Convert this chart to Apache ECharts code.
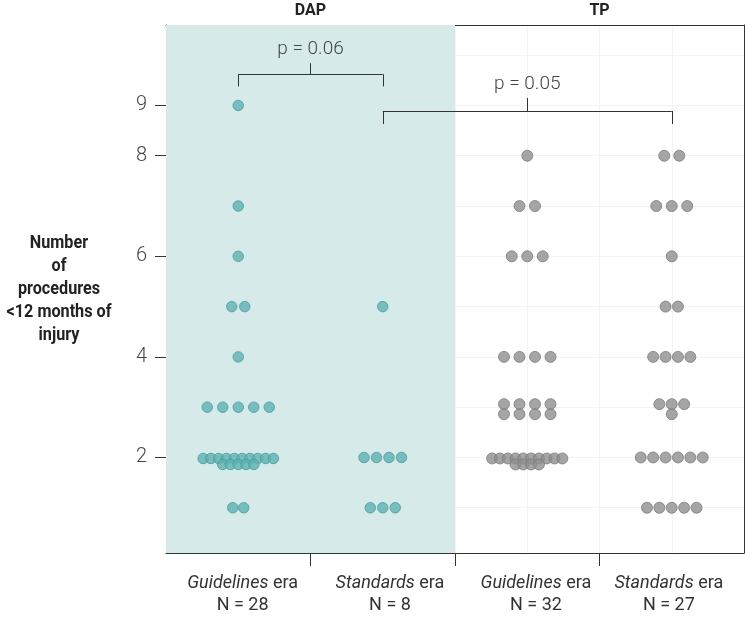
<!DOCTYPE html>
<html>
<head>
<meta charset="utf-8">
<title>Procedures within 12 months of injury</title>
<script src="https://cdn.jsdelivr.net/npm/echarts@6.0.0/dist/echarts.min.js"></script>
<style>
    html, body { margin: 0; padding: 0; background: #fff; }
    #chart { width: 745px; height: 623px; }
</style>
</head>
<body>
<div id="chart"></div>
<script>
// one value per patient: number of procedures < 12 months of injury
let dapGuidelines = [9, 7, 6, 5, 5, 4, 3, 3, 3, 3, 3,
    2, 2, 2, 2, 2, 2, 2, 2, 2, 2, 2, 2, 2, 2, 2, 1, 1];
let dapStandards = [5, 2, 2, 2, 2, 1, 1, 1];
let tpGuidelines = [8, 7, 7, 6, 6, 6, 4, 4, 4, 4, 3, 3, 3, 3, 3, 3, 3, 3,
    2, 2, 2, 2, 2, 2, 2, 2, 2, 2, 2, 2, 2, 2];
let tpStandards = [8, 8, 7, 7, 7, 6, 5, 5, 4, 4, 4, 4, 3, 3, 3, 3,
    2, 2, 2, 2, 2, 2, 1, 1, 1, 1, 1];

let groupEra = ['Guidelines', 'Standards', 'Guidelines', 'Standards'];
let groupN = [28, 8, 32, 27];
let panelNames = ['DAP', 'TP'];
let yTicks = [2, 4, 6, 8, 9];
let pLabels = ['p = 0.06', 'p = 0.05'];

let groups = [dapGuidelines, dapStandards, tpGuidelines, tpStandards];

// layout
let gridBox = { left: 166, right: 1, top: 25, bottom: 70 };
let xRange = [0.5, 4.5];
let yRange = [0.1, 10.6];
let pxX = (745 - gridBox.left - gridBox.right) / (xRange[1] - xRange[0]);
let pxY = (623 - gridBox.top - gridBox.bottom) / (yRange[1] - yRange[0]);
let labelPos = [1.03, 2.05, 3.06, 3.98];
let panelPos = [1.5, 3.5];
let gridX = [0.5, 1, 1.5, 2, 2.5, 3, 3.5, 4, 4.5];
let gridY = [1, 2, 3, 4, 5, 6, 7, 8, 9, 10];

// spacing of the dots in each group, in px
let swarm = [
    { gap: 15.5, rows: { 2: [10, 5] }, gaps: { 1: 11, 5: 13 } },
    { gap: 12.5, rows: {}, gaps: {} },
    { gap: 15.5, rows: { 2: [10, 4], 3: [4, 4] }, gaps: {} },
    { gap: 12.4, rows: { 3: [3, 1] }, gaps: { 7: 15.5, 8: 15 } }
];

function beeswarm(values, g) {
    let cfg = swarm[g];
    let counts = {};
    values.forEach(v => { counts[v] = (counts[v] || 0) + 1; });
    let pts = [];
    Object.keys(counts).forEach(key => {
        let v = +key;
        let rows = cfg.rows[v] || [counts[v]];
        let dense = rows[0] >= 10;
        let gap = dense ? 7.8 : (cfg.gaps[v] || cfg.gap);
        rows.forEach((n, r) => {
            let dy = rows.length === 1 ? 0 : (r === 0 ? (dense ? 1 : -3) : 7);
            for (let i = 0; i < n; i++) {
                let dx = (i - (n - 1) / 2) * gap;
                pts.push([g + 1 + dx / pxX, v - dy / pxY, v]);
            }
        });
    });
    return pts;
}

let brackets = [
    { from: 1, to: 2, level: 9.62, leg: 0.24, stem: 0.22, text: pLabels[0] },
    { from: 2, to: 4, level: 8.89, leg: 0.26, stem: 0.26, text: pLabels[1] }
];

let bracketLines = [];
brackets.forEach(b => {
    let mid = (b.from + b.to) / 2;
    bracketLines.push([{ coord: [b.from, b.level] }, { coord: [b.to, b.level] }]);
    bracketLines.push([{ coord: [b.from, b.level] }, { coord: [b.from, b.level - b.leg] }]);
    bracketLines.push([{ coord: [b.to, b.level] }, { coord: [b.to, b.level - b.leg] }]);
    bracketLines.push([
        { coord: [mid, b.level], label: { show: true, formatter: b.text } },
        { coord: [mid, b.level + b.stem] }
    ]);
});

let lightFont = "Roboto, 'Noto Sans', sans-serif";
let boldFont = "Roboto, 'Noto Sans', sans-serif";

let elem = document.getElementById('chart');
let myChart = echarts.init(elem);

let series = groups.map((vals, g) => ({
    name: groupEra[g] + ' ' + panelNames[g < 2 ? 0 : 1],
    type: 'scatter',
    z: 3,
    symbolSize: g < 2 ? 10.5 : 11,
    itemStyle: g < 2
        ? { color: '#5fb2b2', borderColor: '#479c9c', borderWidth: 1 }
        : { color: '#8f8f8f', borderColor: '#7a7a7a', borderWidth: 1 },
    data: beeswarm(vals, g)
}));

// faint grid and shaded DAP panel
series.push({
    type: 'line',
    data: [],
    markLine: {
        silent: true,
        z: 0,
        symbol: ['none', 'none'],
        label: { show: false },
        lineStyle: { color: '#f3f3f3', width: 1, type: 'solid' },
        data: gridX.map(x => ({ xAxis: x })).concat(gridY.map(y => ({ yAxis: y })))
    },
    markArea: {
        silent: true,
        z: 1,
        itemStyle: { color: '#d6eaea' },
        data: [[{ xAxis: 0.5 }, { xAxis: 2.5 }]]
    }
});

// p-value brackets
series.push({
    type: 'line',
    data: [],
    markLine: {
        silent: true,
        z: 5,
        symbol: ['none', 'none'],
        emphasis: { disabled: true },
        label: {
            show: false,
            position: 'end',
            distance: 4,
            fontFamily: lightFont,
            fontWeight: 300,
            fontSize: 19,
            color: '#444'
        },
        lineStyle: { color: '#333', width: 1, type: 'solid' },
        data: bracketLines
    }
});

let option = {
    animation: false,
    grid: gridBox,
    xAxis: [
        {
            type: 'value',
            position: 'bottom',
            min: xRange[0],
            max: xRange[1],
            axisLine: { onZero: false, lineStyle: { color: '#333', width: 1 } },
            axisTick: { customValues: [1.5, 2.5, 3.5], length: 13, lineStyle: { color: '#333' } },
            splitLine: { show: false },
            axisLabel: {
                customValues: labelPos,
                margin: 19,
                fontFamily: lightFont,
                fontSize: 18,
                lineHeight: 22,
                color: '#333',
                formatter: function (value) {
                    let i = labelPos.indexOf(value);
                    return '{it|' + groupEra[i] + '} era\nN = ' + groupN[i];
                },
                rich: {
                    it: { fontStyle: 'italic', fontFamily: lightFont, fontSize: 18, lineHeight: 22, color: '#333' }
                }
            }
        },
        {
            type: 'value',
            position: 'top',
            min: xRange[0],
            max: xRange[1],
            axisLine: { onZero: false, lineStyle: { color: '#333', width: 1 } },
            axisTick: { show: false },
            splitLine: { show: false },
            axisLabel: {
                customValues: panelPos,
                margin: 6,
                fontFamily: boldFont,
                fontWeight: 'bold',
                fontSize: 16,
                color: '#222',
                formatter: function (value) {
                    return panelNames[panelPos.indexOf(value)];
                }
            }
        }
    ],
    yAxis: [
        {
            type: 'value',
            position: 'left',
            min: yRange[0],
            max: yRange[1],
            axisLine: { show: true, onZero: false, lineStyle: { color: '#333', width: 1 } },
            axisTick: { show: true, customValues: yTicks, length: 11, lineStyle: { color: '#333' } },
            splitLine: { show: false },
            axisLabel: {
                customValues: yTicks,
                margin: 19,
                fontFamily: lightFont,
                fontWeight: 300,
                fontSize: 20,
                color: '#444'
            }
        },
        {
            type: 'value',
            position: 'right',
            min: yRange[0],
            max: yRange[1],
            axisLine: { show: true, onZero: false, lineStyle: { color: '#333', width: 1 } },
            axisTick: { show: false },
            axisLabel: { show: false },
            splitLine: { show: false }
        }
    ],
    graphic: [
        {
            // condensed bold axis title, squeezed horizontally
            type: 'text',
            x: 59,
            y: 289,
            scaleX: 0.9,
            style: {
                text: 'Number\nof\nprocedures\n<12 months of\ninjury',
                textAlign: 'center',
                textVerticalAlign: 'middle',
                fontFamily: boldFont,
                fontWeight: 'bold',
                fontSize: 18,
                lineHeight: 23,
                fill: '#222'
            }
        }
    ],
    series: series
};

myChart.setOption(option);
</script>
</body>
</html>
